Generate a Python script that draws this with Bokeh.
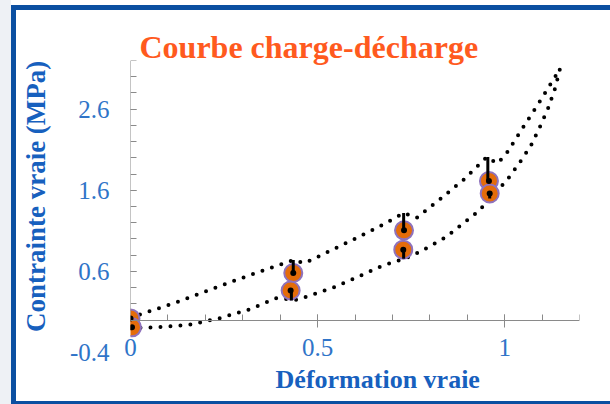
from bokeh.plotting import figure
from bokeh.models import LinearAxis, FixedTicker, Range1d, Title, Div
from bokeh.layouts import column, row
from bokeh.embed import file_html
from bokeh.resources import INLINE

# Loading branch (charge): true strain / true stress (MPa)
charge_strain = [0.0, 0.13, 0.28, 0.435, 0.465, 0.59, 0.68, 0.73, 0.765, 0.83, 0.89,
                 0.952, 0.98, 1.003, 1.047, 1.092, 1.135, 1.148]
charge_stress = [0.03, 0.23, 0.49, 0.74, 0.70, 0.98, 1.19, 1.32, 1.26, 1.50, 1.73,
                 2.01, 1.93, 2.04, 2.36, 2.68, 3.00, 3.10]

# Unloading branch (décharge)
decharge_strain = [0.0, 0.075, 0.156, 0.236, 0.317, 0.39, 0.445, 0.497, 0.545, 0.597,
                   0.673, 0.735, 0.773, 0.842, 0.927, 0.962, 1.007, 1.04, 1.07, 1.094,
                   1.116, 1.135, 1.148]
decharge_stress = [-0.10, -0.088, -0.06, 0.02, 0.13, 0.27, 0.25, 0.33, 0.405, 0.51,
                   0.67, 0.76, 0.84, 1.02, 1.33, 1.50, 1.73, 1.94, 2.15, 2.38,
                   2.61, 2.86, 3.10]

# Relaxed (equilibrium) points
eq_load_strain = [0.0, 0.435, 0.731, 0.958]
eq_load_stress = [0.02, 0.58, 1.106, 1.715]
eq_unload_strain = [0.004, 0.428, 0.729, 0.960]
eq_unload_stress = [-0.09, 0.365, 0.868, 1.56]

# Stress relaxation during loading (peak -> relaxed)
relax_strain = [0.435, 0.73, 0.955]
relax_peak = [0.74, 1.32, 2.01]
relax_end = [0.58, 1.106, 1.715]

# Stress recovery during unloading (trough -> relaxed)
recov_strain = [0.43, 0.73, 0.96]
recov_low = [0.24, 0.757, 1.50]
recov_end = [0.365, 0.868, 1.56]

# Axis ticks
x_major = [0.5, 1.0]
x_minor = [0.1, 0.2, 0.3, 0.4, 0.5, 0.6, 0.7, 0.8, 0.9, 1.0, 1.1, 1.2]
x_labels = [0, 0.5, 1]
y_major = [0.6, 1.6, 2.6]
y_minor = [0.0, 0.2, 0.4, 0.6, 0.8, 1.0, 1.2, 1.4, 1.6, 1.8, 2.0, 2.2, 2.4, 2.6,
           2.8, 3.0, 3.2]
y_labels = [-0.4, 0.6, 1.6, 2.6]

SERIF = "Liberation Serif"
BLUE_TICK = "#2F74C8"
BLUE_TITLE = "#1760BE"
AXIS_GREY = "#8A8A8A"
FRAME_BLUE = "#0B4FA1"
PAGE_GREY = "#EEF1F5"
NBSP = "\u00a0"

p = figure(width=594, height=391, x_range=Range1d(0, 1.2), y_range=Range1d(-0.4, 3.2),
           x_axis_type=None, y_axis_type=None, toolbar_location=None,
           output_backend="svg", min_border_left=114, min_border_right=31,
           min_border_top=50, min_border_bottom=49, margin=0)
p.grid.visible = False
p.outline_line_color = None
p.background_fill_color = "white"
p.border_fill_color = "white"

p.title = Title(text="Courbe charge-décharge", align="left", offset=9, standoff=-9,
                text_font=SERIF, text_font_size="32px", text_font_style="bold",
                text_color="#FF5A1E")

NO_TICKS = dict(axis_line_color=None, major_tick_line_color=None,
                minor_tick_line_color=None, major_tick_out=0, major_tick_in=0,
                minor_tick_out=0, minor_tick_in=0)

# y axis line and ticks, drawn at strain = 0 from 0 up to 3.2
y_rule = LinearAxis(fixed_location=0, bounds=(0, 3.2),
                    ticker=FixedTicker(ticks=y_major, minor_ticks=y_minor),
                    axis_line_color=AXIS_GREY, major_tick_line_color=AXIS_GREY,
                    minor_tick_line_color=AXIS_GREY, major_tick_in=6, major_tick_out=7,
                    minor_tick_in=6, minor_tick_out=0, major_label_text_color=None)
p.add_layout(y_rule, "left")

# y tick labels
y_lab = LinearAxis(ticker=FixedTicker(ticks=y_labels, minor_ticks=[]),
                   major_label_standoff=21, major_label_overrides={-0.4: "-0.4"},
                   major_label_text_font=SERIF, major_label_text_font_size="25px",
                   major_label_text_color=BLUE_TICK, **NO_TICKS)
p.add_layout(y_lab, "left")

# y axis title
y_title = LinearAxis(ticker=FixedTicker(ticks=[], minor_ticks=[]), major_label_standoff=0,
                     axis_label=NBSP * 3 + "Contrainte vraie (MPa)",
                     axis_label_standoff=16, axis_label_text_font=SERIF,
                     axis_label_text_font_size="27px", axis_label_text_font_style="bold",
                     axis_label_text_color=BLUE_TITLE, **NO_TICKS)
p.add_layout(y_title, "left")

# x axis line and ticks, drawn at stress = 0
x_rule = LinearAxis(fixed_location=0, bounds=(0, 1.2),
                    ticker=FixedTicker(ticks=x_major, minor_ticks=x_minor),
                    axis_line_color=AXIS_GREY, major_tick_line_color=AXIS_GREY,
                    minor_tick_line_color=AXIS_GREY, major_tick_in=6, major_tick_out=7,
                    minor_tick_in=6, minor_tick_out=0, major_label_text_color=None)
p.add_layout(x_rule, "below")

# x tick labels, on the bottom edge
x_lab = LinearAxis(ticker=FixedTicker(ticks=x_labels, minor_ticks=[]),
                   major_label_standoff=-14, major_label_text_font=SERIF,
                   major_label_text_font_size="25px", major_label_text_color=BLUE_TICK,
                   **NO_TICKS)
p.add_layout(x_lab, "below")

# x axis title
x_title = LinearAxis(ticker=FixedTicker(ticks=[], minor_ticks=[]), major_label_standoff=0,
                     axis_label=NBSP * 7 + "Déformation vraie", axis_label_standoff=6,
                     axis_label_text_font=SERIF, axis_label_text_font_size="26px",
                     axis_label_text_font_style="bold", axis_label_text_color=BLUE_TITLE,
                     **NO_TICKS)
p.add_layout(x_title, "below")

# dotted loading / unloading curves
p.line(charge_strain, charge_stress, line_color="black", line_width=4,
       line_dash="0 10", line_cap="round", line_join="round")
p.line(decharge_strain, decharge_stress, line_color="black", line_width=4,
       line_dash="0 10", line_cap="round", line_join="round")

# relaxed points
p.scatter(eq_load_strain, eq_load_stress, size=18, fill_color="#E46C0A",
          line_color="#8F72BC", line_width=2)
p.scatter(eq_unload_strain, eq_unload_stress, size=18, fill_color="#E46C0A",
          line_color="#8F72BC", line_width=2)

# relaxation drops and recoveries
p.segment(x0=relax_strain, y0=relax_peak, x1=relax_strain, y1=relax_end,
          line_color="black", line_width=3)
p.segment(x0=recov_strain, y0=recov_low, x1=recov_strain, y1=recov_end,
          line_color="black", line_width=3)
p.scatter(eq_load_strain, eq_load_stress, size=6, fill_color="black", line_color=None)
p.scatter(eq_unload_strain, eq_unload_stress, size=6, fill_color="black", line_color=None)


def block(w, h, color):
    return Div(width=w, height=h, margin=0, styles={"background-color": color})


# slide frame: grey margin, blue border on the left, top and bottom
left_margin = block(11, 404, PAGE_GREY)
left_bar = column(block(5, 5, "white"), block(5, 399, FRAME_BLUE), spacing=0, margin=0)
main = column(block(594, 5, "white"), block(594, 5, FRAME_BLUE), p,
              block(594, 3, FRAME_BLUE), spacing=0, margin=0)
page = row(left_margin, left_bar, main, spacing=0, margin=0)

open("out.html", "w").write(file_html(page, INLINE))
